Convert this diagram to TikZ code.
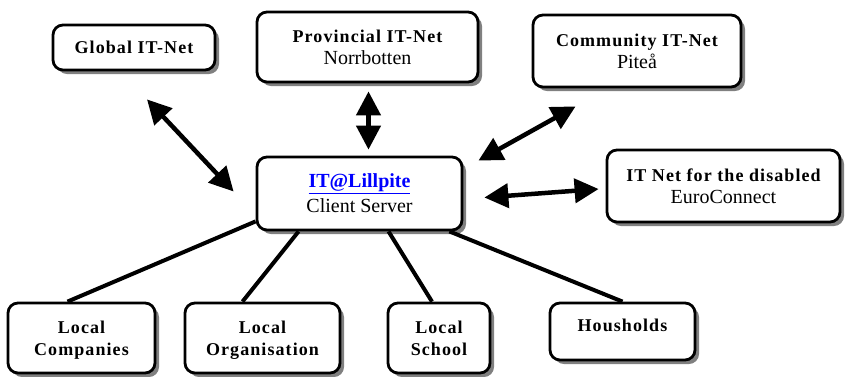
\documentclass[tikz,border=0pt]{standalone}
\usepackage{fontspec}
\setmainfont{Liberation Serif}
\newfontfamily\spacedfont[LetterSpace=6]{Liberation Serif}
\usepackage{tikz}
\definecolor{linkblue}{HTML}{0000FF}
\definecolor{shadowgray}{HTML}{808080}
\usetikzlibrary{shadows,calc,arrows.meta}
\newcommand{\boxhead}[1]{{\spacedfont\bfseries\fontsize{18}{22}\selectfont #1}}

\begin{document}
\begin{tikzpicture}[x=1pt,y=-1pt,
  itbox/.style={
    rectangle,
    rounded corners=10pt,
    draw=black,
    line width=2.8pt,
    fill=white,
    align=center,
    font=\fontsize{20}{22}\selectfont,
    drop shadow={shadow xshift=4pt,shadow yshift=-4pt,fill=shadowgray,opacity=1}},
  link/.style={{Triangle[length=24pt,width=24pt]}-{Triangle[length=24pt,width=24pt]},line width=4.5pt},
  spoke/.style={line width=4pt}]
  \useasboundingbox (0,0) rectangle (852,376);

  % upper row
  \node[
    itbox,
    minimum width=162pt,
    minimum height=45pt] at (134,47.5) (glob) {\boxhead{Global IT-Net}};

  \node[
    itbox,
    minimum width=221pt,
    minimum height=70pt] at (367.5,47) (prov) {\boxhead{Provincial IT-Net}\\Norrbotten};

  \node[
    itbox,
    minimum width=208pt,
    minimum height=72pt] at (637,51) (comm) {\boxhead{Community IT-Net}\\Piteå};

  % middle row
  \node[
    itbox,
    minimum width=205pt,
    minimum height=73pt] at (359.5,193.5) (hub)
    {{\bfseries\color{linkblue}\underline{IT@Lillpite}}\\[3pt]Client Server};

  \node[
    itbox,
    minimum width=233pt,
    minimum height=72pt] at (723.5,186) (dis) {\boxhead{IT Net for the disabled}\\EuroConnect};

  % lower row
  \node[
    itbox,
    text depth=0pt,
    minimum width=147pt,
    minimum height=70pt] at (81.5,338) (comp) {\boxhead{Local}\\\boxhead{Companies}};

  \node[
    itbox,
    text depth=0pt,
    minimum width=155pt,
    minimum height=70pt] at (262.5,338) (org) {\boxhead{Local}\\\boxhead{Organisation}};

  \node[
    itbox,
    text depth=0pt,
    minimum width=102pt,
    minimum height=70pt] at (439,338) (school) {\boxhead{Local}\\\boxhead{School}};

  \node[
    itbox,
    text depth=13pt,
    minimum width=145pt,
    minimum height=57pt] at (622.5,331.5) (house) {\boxhead{Housholds}};

  % arrow ends
  \coordinate (g1) at ($(glob.south)+(13,28)$);
  \coordinate (g2) at ($(hub.west)+(-22,-2)$);
  \coordinate (p1) at ($(prov.south)+(1,8)$);
  \coordinate (p2) at ($(hub.north)+(9,-6)$);
  \coordinate (c1) at ($(comm.south west)+(44,18)$);
  \coordinate (c2) at ($(hub.north east)+(15,5)$);
  \coordinate (d1) at ($(dis.west)+(-7,3)$);
  \coordinate (d2) at ($(hub.east)+(21,4)$);

  \draw[link] (g1) -- (g2);
  \draw[link] (p1) -- (p2);
  \draw[link] (c1) -- (c2);
  \draw[link] (d1) -- (d2);

  % spokes to the local boxes
  \draw[spoke] ($(hub.south west)+(0,-10)$) -- ($(comp.north)+(-14,0)$);
  \draw[spoke] ($(hub.south west)+(43,0)$) -- ($(org.north)+(-20,0)$);
  \draw[spoke] ($(hub.south)+(29,0)$) -- ($(school.north)+(-7,0)$);
  \draw[spoke] ($(hub.south east)+(-14,0)$) -- (house.north);

\end{tikzpicture}
\end{document}
